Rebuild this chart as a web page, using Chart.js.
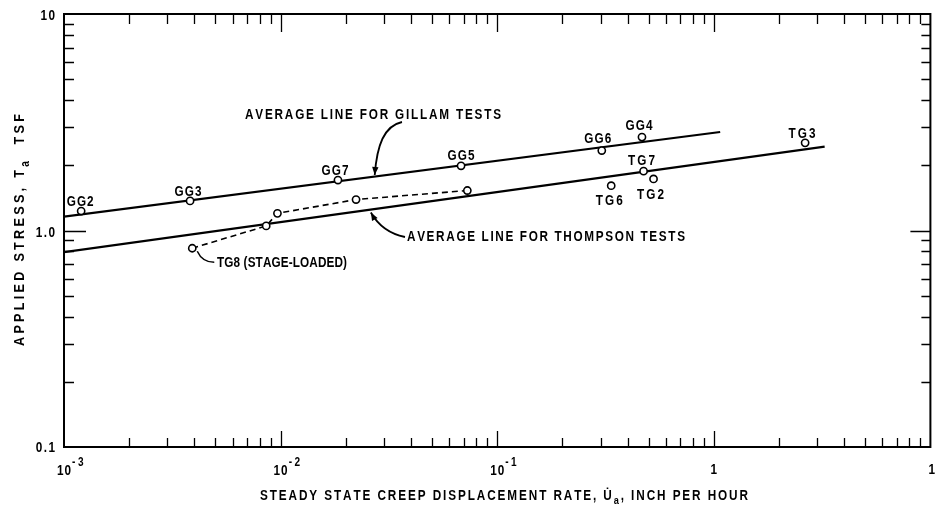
<!DOCTYPE html>
<html><head><meta charset="utf-8">
<script src="https://cdn.jsdelivr.net/npm/chart.js@4.4.1/dist/chart.umd.min.js"></script>
<style>html,body{margin:0;padding:0;background:#fff;}canvas{display:block;}</style>
</head><body>
<canvas id="c" width="936" height="507"></canvas>
<script>
// ---------------- DATA ----------------
const gillamNames   = ['GG2','GG3','GG7','GG5','GG6','GG4'];
const gillamRate    = [0.00120, 0.00382, 0.0184, 0.0681, 0.304, 0.466];
const gillamStress  = [1.23, 1.37, 1.71, 1.99, 2.34, 2.70];

const thompsonNames  = ['TG6','TG7','TG2','TG3'];
const thompsonRate   = [0.336, 0.474, 0.527, 2.64];
const thompsonStress = [1.61, 1.88, 1.73, 2.54];

const tg8Label  = 'TG8 (STAGE-LOADED)';
const tg8Rate   = [0.00391, 0.00858, 0.00967, 0.0223, 0.0728];
const tg8Stress = [0.828, 1.05, 1.20, 1.39, 1.53];

const gillamAvgRate     = [0.001, 1.07];
const gillamAvgStress   = [1.16, 2.85];
const thompsonAvgRate   = [0.001, 3.25];
const thompsonAvgStress = [0.795, 2.44];

const xTickValues = [0.001, 0.01, 0.1, 1, 10];
const xTickLabels = ['10^-3', '10^-2', '10^-1', '1', '10'];
const yTickValues = [0.1, 1, 10];
const yTickLabels = ['0.1', '1.0', '10'];

const gillamNote   = 'AVERAGE LINE FOR GILLAM TESTS';
const thompsonNote = 'AVERAGE LINE FOR THOMPSON TESTS';
const xTitleParts = [{t:'STEADY STATE CREEP DISPLACEMENT RATE, '},{t:'U\u0307'},{t:'a',sub:true},{t:', INCH PER HOUR'}];
const yTitleParts = [{t:'APPLIED STRESS, '},{t:'T'},{t:'a',sub:true},{t:'  TSF'}];

// ---------------- LAYOUT (pixel offsets / sizes only) ----------------
const FAMILY = '"Liberation Sans", Arial, sans-serif';
const SX = 0.84;   // horizontal condensation of lettering
const labelOffset = { // label centre relative to its point, px
  GG2:[-1,-10], GG3:[-2,-10], GG7:[-3,-10], GG5:[0,-11], GG6:[-4,-13], GG4:[-3,-12],
  TG6:[-2,14], TG7:[-2,-11], TG2:[-3,15], TG3:[-3,-10]
};
const L = {
  pointLabelW: 27, size: 14,
  gillamNote: {x0:245, cy:114, w:256},
  thompsonNote: {x0:407, cy:236, w:278},
  tg8: {x0:217, cy:262, w:130},
  xTitle: {cx:504, cy:495, w:488},
  yTitle: {cx:19, cy:230, w:232, size:15}
};

const pts = (xs, ys) => xs.map((v,i)=>({x:v, y:ys[i]}));

function font(sz){ return `bold ${sz}px ${FAMILY}`; }
function glyphs(parts){
  const out=[];
  for(const p of parts){
    for(const ch of Array.from(p.t)){
      if(/[\u0300-\u036f]/.test(ch) && out.length){ out[out.length-1].t += ch; continue; }
      out.push({t:ch, sub:!!p.sub, sup:!!p.sup});
    }
  }
  return out;
}
function glyph(ctx, t, x, y){
  ctx.save(); ctx.translate(x, y); ctx.scale(SX, 1); ctx.fillText(t, 0, 0); ctx.restore();
}
// condensed text with letters spread to fill a given width; cy = visual centre of capitals
function drawSpaced(ctx, parts, x0, cy, width, size){
  if(typeof parts === 'string') parts=[{t:parts}];
  const gs = glyphs(parts);
  let nat = 0;
  gs.forEach(g=>{ g.s = (g.sub||g.sup)? Math.round(size*0.8) : size; ctx.font = font(g.s); g.w = ctx.measureText(g.t).width*SX; nat += g.w; });
  const sp = gs.length>1 ? (width-nat)/(gs.length-1) : 0;
  const base = cy + size*0.36;
  let x = x0;
  ctx.textAlign='left'; ctx.textBaseline='alphabetic';
  gs.forEach(g=>{
    ctx.font = font(g.s);
    const dy = g.sub ? size*0.3 : (g.sup ? -size*0.45 : 0);
    glyph(ctx, g.t, x, base+dy);
    x += g.w + sp;
  });
}
// condensed plain text, align: 'left'|'center'|'right'
function textC(ctx, t, x, base, size, align, spacing){
  spacing = spacing||1;
  ctx.font = font(size); ctx.textAlign='left'; ctx.textBaseline='alphabetic';
  const chars = Array.from(t);
  const ws = chars.map(c=>ctx.measureText(c).width*SX);
  const w = ws.reduce((a,b)=>a+b,0) + spacing*(chars.length-1);
  let x0 = align==='center'? x-w/2 : align==='right'? x-w : x;
  chars.forEach((c,i)=>{ glyph(ctx,c,x0,base); x0 += ws[i]+spacing; });
  return w;
}
function logInterp(xs, ys, x){
  const lx = Math.log10(x), a=Math.log10(xs[0]), b=Math.log10(xs[1]);
  const t=(lx-a)/(b-a);
  return Math.pow(10, Math.log10(ys[0]) + t*(Math.log10(ys[1])-Math.log10(ys[0])));
}
function curveArrow(ctx, p0, c1, c2, p3, head){
  ctx.beginPath(); ctx.moveTo(p0[0],p0[1]);
  ctx.bezierCurveTo(c1[0],c1[1],c2[0],c2[1],p3[0],p3[1]);
  ctx.stroke();
  if(head){
    const ang = Math.atan2(p3[1]-c2[1], p3[0]-c2[0]);
    const len=8, half=3.2;
    ctx.beginPath();
    ctx.moveTo(p3[0],p3[1]);
    ctx.lineTo(p3[0]-len*Math.cos(ang)+half*Math.sin(ang), p3[1]-len*Math.sin(ang)-half*Math.cos(ang));
    ctx.lineTo(p3[0]-len*Math.cos(ang)-half*Math.sin(ang), p3[1]-len*Math.sin(ang)+half*Math.cos(ang));
    ctx.closePath(); ctx.fill();
  }
}

const decor = {
  id:'decor',
  afterDraw(chart){
    const {ctx, chartArea:a, scales:{x, y}} = chart;
    ctx.save();
    ctx.strokeStyle='#000'; ctx.fillStyle='#000';
    // frame
    ctx.lineWidth=2;
    ctx.strokeRect(a.left, a.top, a.right-a.left, a.bottom-a.top);
    // inward log ticks
    ctx.lineWidth=1.3;
    const dx0=Math.round(Math.log10(x.min)), dx1=Math.round(Math.log10(x.max));
    for(let d=dx0; d<dx1; d++) for(let m=1;m<=9;m++){
      if(m===1 && d===dx0) continue;
      const px = Math.round(x.getPixelForValue(m*Math.pow(10,d)))+0.5;
      const lb = m===1?16:9, lt = m===1?18:10;
      ctx.beginPath();
      ctx.moveTo(px,a.bottom); ctx.lineTo(px,a.bottom-lb);
      ctx.moveTo(px,a.top); ctx.lineTo(px,a.top+lt);
      ctx.stroke();
    }
    const dy0=Math.round(Math.log10(y.min)), dy1=Math.round(Math.log10(y.max));
    for(let d=dy0; d<dy1; d++) for(let m=1;m<=9;m++){
      if(m===1 && d===dy0) continue;
      const py = Math.round(y.getPixelForValue(m*Math.pow(10,d)))+0.5;
      const ll = m===1?22:10, lr = m===1?20:9;
      ctx.beginPath();
      ctx.moveTo(a.left,py); ctx.lineTo(a.left+ll,py);
      ctx.moveTo(a.right,py); ctx.lineTo(a.right-lr,py);
      ctx.stroke();
    }
    // tick labels
    const S=L.size;
    xTickValues.forEach((v,i)=>{
      const px = x.getPixelForValue(v);
      const lab = xTickLabels[i];
      if(lab.includes('^')){
        const [b,e]=lab.split('^');
        ctx.font=font(S); const wb=ctx.measureText(b).width*SX+1;
        textC(ctx, b, px-wb/2, 475, S, 'left', 1);
        textC(ctx, e, px+wb/2+1, 466, 12, 'left', 2.5);
      } else if(v===x.max){
        textC(ctx, lab, px-2, 474, S, 'left', 1);
      } else {
        textC(ctx, lab, px, 474, S, 'center', 1);
      }
    });
    yTickValues.forEach((v,i)=>{
      const py = y.getPixelForValue(v);
      textC(ctx, yTickLabels[i], 55, py+S*0.36 + (v===y.min? 0:1), S, 'right', 1.5);
    });
    // point labels
    const lab = (names, xs, ys)=>names.forEach((n,i)=>{
      const o = labelOffset[n];
      const px=x.getPixelForValue(xs[i])+o[0], py=y.getPixelForValue(ys[i])+o[1];
      drawSpaced(ctx, n, px-L.pointLabelW/2, py, L.pointLabelW, S);
    });
    lab(gillamNames, gillamRate, gillamStress);
    lab(thompsonNames, thompsonRate, thompsonStress);
    // notes
    drawSpaced(ctx, gillamNote, L.gillamNote.x0, L.gillamNote.cy, L.gillamNote.w, S);
    drawSpaced(ctx, thompsonNote, L.thompsonNote.x0, L.thompsonNote.cy, L.thompsonNote.w, S);
    drawSpaced(ctx, tg8Label, L.tg8.x0, L.tg8.cy, L.tg8.w, S);
    // arrows
    ctx.lineWidth=1.8;
    const gx=0.0272, gTip=[x.getPixelForValue(gx), y.getPixelForValue(logInterp(gillamAvgRate,gillamAvgStress,gx))-1.5];
    curveArrow(ctx,[402,122],[384,126],[377,145],gTip,true);
    const tx=0.0261, tTip=[x.getPixelForValue(tx), y.getPixelForValue(logInterp(thompsonAvgRate,thompsonAvgStress,tx))+3];
    curveArrow(ctx,[405,237],[390,234],[378,225],tTip,true);
    ctx.lineWidth=1.5;
    const t0=[x.getPixelForValue(tg8Rate[0]), y.getPixelForValue(tg8Stress[0])];
    ctx.beginPath(); ctx.moveTo(t0[0]+5,t0[1]+3); ctx.quadraticCurveTo(t0[0]+10,t0[1]+14,t0[0]+22,t0[1]+14); ctx.stroke();
    // axis titles
    drawSpaced(ctx, xTitleParts, L.xTitle.cx-L.xTitle.w/2, L.xTitle.cy, L.xTitle.w, S);
    ctx.translate(L.yTitle.cx, L.yTitle.cy); ctx.rotate(-Math.PI/2);
    drawSpaced(ctx, yTitleParts, -L.yTitle.w/2, 0, L.yTitle.w, L.yTitle.size);
    ctx.restore();
  }
};

const ptStyle = {showLine:false, pointRadius:3.6, pointBorderWidth:1.6, pointBackgroundColor:'#fff', pointBorderColor:'#000', borderColor:'#000'};
new Chart(document.getElementById('c'), {
  type:'scatter',
  data:{datasets:[
    Object.assign({label:'Gillam tests', data:pts(gillamRate,gillamStress), order:0}, ptStyle),
    Object.assign({label:'Thompson tests', data:pts(thompsonRate,thompsonStress), order:0}, ptStyle),
    Object.assign({}, ptStyle, {label:tg8Label, data:pts(tg8Rate,tg8Stress), showLine:true, borderWidth:1.6, borderDash:[6,4], order:1}),
    {label:gillamNote, data:pts(gillamAvgRate,gillamAvgStress), showLine:true, borderColor:'#000', borderWidth:2.2, pointRadius:0, order:2},
    {label:thompsonNote, data:pts(thompsonAvgRate,thompsonAvgStress), showLine:true, borderColor:'#000', borderWidth:2.2, pointRadius:0, order:2}
  ]},
  options:{
    responsive:false, animation:false, devicePixelRatio:1, events:[],
    layout:{padding:{left:64,right:3,top:14,bottom:60}},
    plugins:{legend:{display:false}, tooltip:{enabled:false}},
    scales:{
      x:{type:'logarithmic', min:0.001, max:10, display:false},
      y:{type:'logarithmic', min:0.1, max:10, display:false}
    }
  },
  plugins:[decor]
});
</script>
</body></html>
